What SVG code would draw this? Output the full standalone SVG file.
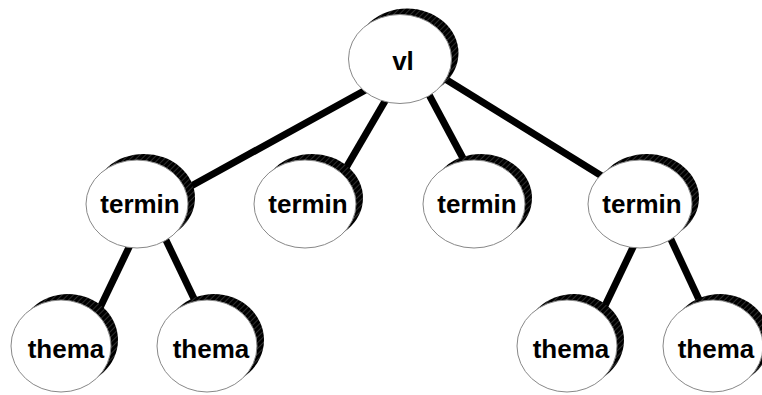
<svg xmlns="http://www.w3.org/2000/svg" width="762" height="395" viewBox="0 0 762 395">
<style>
.edge{stroke:#000;stroke-width:7;stroke-linecap:butt;fill:none}
.shadow{fill:url(#hatch)}
.node{fill:#fff;stroke:#888;stroke-width:1}
.label{font-family:"Liberation Sans",Arial,sans-serif;font-weight:bold;font-size:26px;text-anchor:middle;fill:#000}
</style>
<defs>
<pattern id="hatch" patternUnits="userSpaceOnUse" width="4" height="4" patternTransform="rotate(45)">
<rect width="4" height="4" fill="#000"/>
<line x1="0" y1="0" x2="0" y2="4" stroke="#777" stroke-width="0.8"/>
</pattern>
</defs>
<rect width="762" height="395" fill="#fff"/>
<g id="edges">
<line class="edge" x1="371" y1="87" x2="184" y2="190"/>
<line class="edge" x1="388" y1="96" x2="343" y2="173"/>
<line class="edge" x1="427" y1="91" x2="465" y2="162"/>
<line class="edge" x1="442" y1="77" x2="605" y2="178"/>
<line class="edge" x1="132" y1="241" x2="97" y2="314"/>
<line class="edge" x1="164" y1="236" x2="198" y2="307"/>
<line class="edge" x1="636" y1="241" x2="602" y2="312"/>
<line class="edge" x1="668" y1="233" x2="702" y2="306"/>
</g>
<g id="n-vl">
<ellipse class="shadow" cx="407" cy="53" rx="51.5" ry="44.5"/>
<ellipse class="node" cx="400" cy="59" rx="51.5" ry="44.5"/>
<text class="label" x="403" y="70">vl</text>
</g>
<g id="n-termin1">
<ellipse class="shadow" cx="144" cy="198" rx="51" ry="44"/>
<ellipse class="node" cx="137" cy="204" rx="51" ry="44"/>
<text class="label" x="140" y="213">termin</text>
</g>
<g id="n-termin2">
<ellipse class="shadow" cx="312" cy="198" rx="51" ry="44"/>
<ellipse class="node" cx="305" cy="204" rx="51" ry="44"/>
<text class="label" x="308" y="213">termin</text>
</g>
<g id="n-termin3">
<ellipse class="shadow" cx="481" cy="198" rx="51" ry="44"/>
<ellipse class="node" cx="474" cy="204" rx="51" ry="44"/>
<text class="label" x="477" y="213">termin</text>
</g>
<g id="n-termin4">
<ellipse class="shadow" cx="647" cy="198" rx="52" ry="44"/>
<ellipse class="node" cx="640" cy="204" rx="52" ry="44"/>
<text class="label" x="642" y="213">termin</text>
</g>
<g id="n-thema1">
<ellipse class="shadow" cx="68" cy="340" rx="50" ry="46"/>
<ellipse class="node" cx="61" cy="346" rx="50" ry="46"/>
<text class="label" x="66" y="358">thema</text>
</g>
<g id="n-thema2">
<ellipse class="shadow" cx="214" cy="340" rx="50" ry="46"/>
<ellipse class="node" cx="207" cy="346" rx="50" ry="46"/>
<text class="label" x="211" y="358">thema</text>
</g>
<g id="n-thema3">
<ellipse class="shadow" cx="574" cy="340" rx="50" ry="46"/>
<ellipse class="node" cx="567" cy="346" rx="50" ry="46"/>
<text class="label" x="571" y="358">thema</text>
</g>
<g id="n-thema4">
<ellipse class="shadow" cx="720" cy="340" rx="50" ry="46"/>
<ellipse class="node" cx="713" cy="346" rx="50" ry="46"/>
<text class="label" x="716" y="358">thema</text>
</g>
</svg>
